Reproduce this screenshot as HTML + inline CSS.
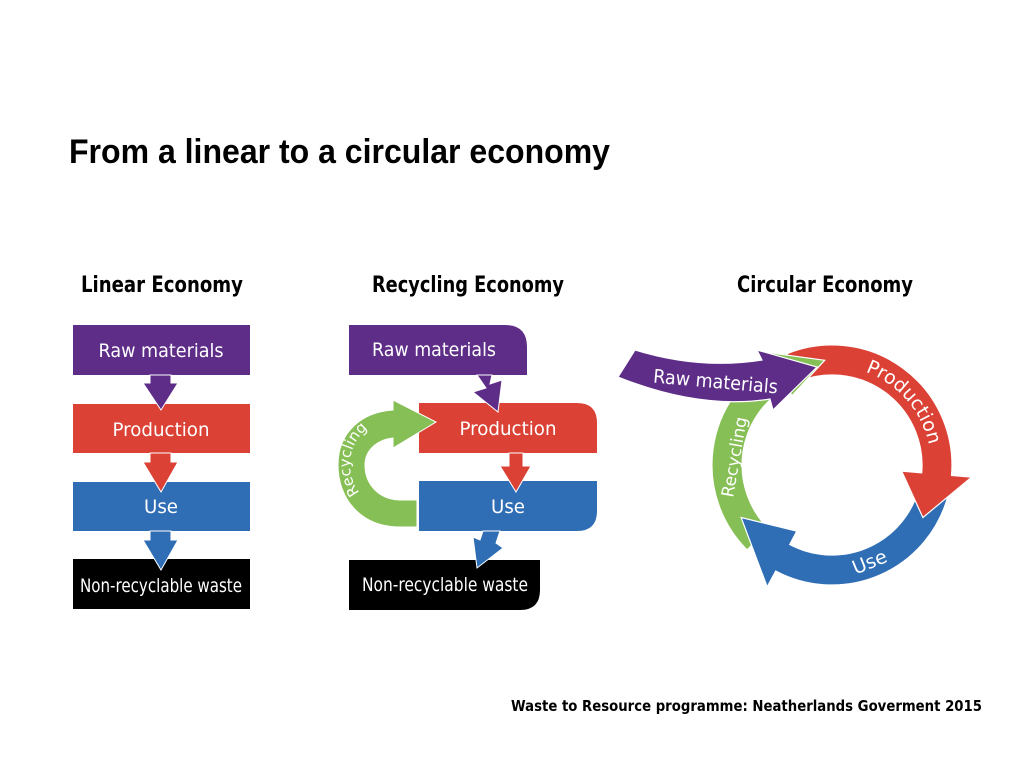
<!DOCTYPE html>
<html><head><meta charset="utf-8"><style>
html,body{margin:0;padding:0;background:#fff;}
svg{display:block;}
text{font-family:"DejaVu Sans","Liberation Sans",sans-serif;}
</style></head><body>
<svg width="1024" height="768" viewBox="0 0 1024 768" xmlns="http://www.w3.org/2000/svg">
<rect width="1024" height="768" fill="#fff"/>
<text x="69" y="163" font-size="34" font-weight="bold" fill="#000" textLength="541" lengthAdjust="spacingAndGlyphs" style="font-family:'Liberation Sans',sans-serif">From a linear to a circular economy</text>
<g font-size="22" fill="#000" style="font-family:'Liberation Sans',sans-serif" font-weight="bold">
<text x="81" y="292" textLength="162" lengthAdjust="spacingAndGlyphs">Linear Economy</text>
<text x="372" y="292" textLength="192" lengthAdjust="spacingAndGlyphs">Recycling Economy</text>
<text x="737" y="292" textLength="176" lengthAdjust="spacingAndGlyphs">Circular Economy</text>
</g>

<!-- Linear -->
<g stroke="#fff" stroke-width="1">
<rect x="73" y="325" width="177" height="50" fill="#5e2d88" stroke="none"/>
<rect x="73" y="404" width="177" height="49" fill="#db4135" stroke="none"/>
<rect x="73" y="482" width="177" height="49" fill="#2f6eb5" stroke="none"/>
<rect x="73" y="559" width="177" height="50" fill="#000" stroke="none"/>
<path d="M150,375 L171,375 L171,383 L178,383 L161,410 L143,383 L150,383 Z" fill="#5e2d88"/>
<path d="M150,453 L171,453 L171,462 L178,462 L161,492 L143,462 L150,462 Z" fill="#db4135"/>
<path d="M150,531 L171,531 L171,540 L178,540 L161,570 L143,540 L150,540 Z" fill="#2f6eb5"/>
</g>
<g fill="#fff" font-size="19" text-anchor="middle" style="font-family:'DejaVu Sans',sans-serif">
<text x="161" y="357" textLength="125" lengthAdjust="spacingAndGlyphs">Raw materials</text>
<text x="161" y="436" textLength="97" lengthAdjust="spacingAndGlyphs">Production</text>
<text x="161" y="513" textLength="34" lengthAdjust="spacingAndGlyphs">Use</text>
<text x="161" y="592" textLength="162" lengthAdjust="spacingAndGlyphs">Non-recyclable waste</text>
</g>

<!-- Recycling -->
<path d="M349,325 L505,325 Q527,325 527,347 L527,375 L349,375 Z" fill="#5e2d88"/>
<path d="M419,403 L577,403 Q597,403 597,423 L597,453 L419,453 Z" fill="#db4135"/>
<path d="M419,481 L597,481 L597,511 Q597,531 577,531 L419,531 Z" fill="#2f6eb5"/>
<path d="M349,560 L540,560 L540,590 Q540,610 520,610 L349,610 Z" fill="#000"/>
<g stroke="#fff" stroke-width="1">
<path d="M477,375 L492,375 L490,384 L502,380 L498,412 L473,392 L486,388 Z" fill="#5e2d88"/>
<path d="M509,453 L523,453 L523,466 L531,466 L516,492 L500,466 L509,466 Z" fill="#db4135"/>
<path d="M483,531 L500,531 L496,543 L503,548 L477,568 L473,537 L480,540 Z" fill="#2f6eb5"/>
<path d="M417,527 L400,527 C360,527 338,498 338,465 C338,432 362,412 393,410 L393,400 L436,422 L393,448 L393,438 C375,440 365,452 365,465 C365,485 380,500 400,500 L417,500 Z" fill="#86bf55"/>
</g>
<path id="recpath" fill="none" d="M370,502 A45,45 0 0 1 380,422"/>
<g fill="#fff" font-size="19" text-anchor="middle">
<text x="434" y="356" textLength="124" lengthAdjust="spacingAndGlyphs">Raw materials</text>
<text x="508" y="435" textLength="97" lengthAdjust="spacingAndGlyphs">Production</text>
<text x="508" y="513" textLength="34" lengthAdjust="spacingAndGlyphs">Use</text>
<text x="445" y="591" textLength="166" lengthAdjust="spacingAndGlyphs">Non-recyclable waste</text>
<text font-size="15"><textPath href="#recpath" startOffset="50%">Recycling</textPath></text>
</g>

<!-- Circular -->
<g id="circ" stroke="#fff" stroke-width="1.2">
<path id="pg" fill="#86bf55"/>
<path id="pb" fill="#2f6eb5"/>
<path id="pr" fill="#db4135"/>
<path id="pgh" fill="#86bf55"/>
<path d="M635,350 Q700,370 762,360 L757,350 L817,367 L773,410 L770,399 Q700,410 618,377 Z" fill="#5e2d88"/>
</g>
<path id="prodpath" fill="none"/>
<g fill="#fff" font-size="19">
<text text-anchor="middle"><textPath href="#prodpath" startOffset="50%">Production</textPath></text>
<text x="0" y="0" text-anchor="middle" transform="translate(715,388) rotate(5)" textLength="125" lengthAdjust="spacingAndGlyphs">Raw materials</text>
<text x="0" y="0" text-anchor="middle" transform="translate(872,568) rotate(-22)">Use</text>
<text x="0" y="0" text-anchor="middle" font-size="17" transform="translate(740,458) rotate(-80)">Recycling</text>
</g>
<script>
function P(cx,cy,r,a){a=a*Math.PI/180;return (cx+r*Math.cos(a)).toFixed(1)+","+(cy+r*Math.sin(a)).toFixed(1);}
function arrow(a0,a1,a2,ri,ro,hi,ho){
 var cx=832,cy=465,m=(ri+ro)/2;
 var large=(a1-a0)>180?1:0;
 return "M"+P(cx,cy,ro,a0)+" A"+ro+","+ro+" 0 "+large+" 1 "+P(cx,cy,ro,a1)+" L"+P(cx,cy,ho,a1)+" L"+P(cx,cy,m,a2)+" L"+P(cx,cy,hi,a1)+" L"+P(cx,cy,ri,a1)+" A"+ri+","+ri+" 0 "+large+" 0 "+P(cx,cy,ri,a0)+" Z";
}
document.getElementById("pr").setAttribute("d",arrow(-112,5,30,90,120,70,140));
document.getElementById("pb").setAttribute("d",arrow(15,118,150,90,120,75,138));
document.getElementById("pg").setAttribute("d",arrow(135,240,266,90,120,80,130));
document.getElementById("pgh").setAttribute("d",arrow(232,240,266,90,120,80,130));
document.getElementById("prodpath").setAttribute("d","M"+P(832,465,99,-80)+" A99,99 0 0 1 "+P(832,465,99,-2));
</script>

<text x="511" y="711" font-size="15.5" font-weight="bold" fill="#000" textLength="471" lengthAdjust="spacingAndGlyphs" style="font-family:'DejaVu Sans',sans-serif">Waste to Resource programme: Neatherlands Goverment 2015</text>
</svg>
</body></html>
